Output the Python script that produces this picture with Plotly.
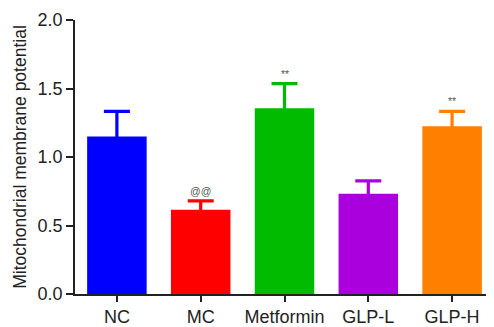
import plotly.graph_objects as go

categories = ["NC", "MC", "Metformin", "GLP-L", "GLP-H"]
means = [1.15, 0.615, 1.355, 0.732, 1.225]
errors = [0.183, 0.065, 0.18, 0.094, 0.108]
colors = ["#0000ff", "#ff0000", "#00bb00", "#aa00dd", "#ff7f00"]
sig_labels = ["", "@@", "**", "", "**"]

fig = go.Figure()
for c, m, e, col in zip(categories, means, errors, colors):
    fig.add_trace(go.Bar(
        x=[c], y=[m], marker=dict(color=col, line=dict(width=0)),
        width=0.71,
        # symmetric error bar: the lower half is hidden inside the same-coloured bar
        error_y=dict(type="data", array=[e], symmetric=True,
                     color=col, thickness=3.2, width=13),
        showlegend=False,
    ))

for c, m, e, s in zip(categories, means, errors, sig_labels):
    if s:
        fig.add_annotation(x=c, y=m + e, text=s, showarrow=False,
                           yanchor="bottom", yshift=2,
                           font=dict(family="Liberation Sans", size=10.5, color="#555"))

# page body has an 8px margin, so the figure is offset by 8px
fig.update_layout(
    width=486, height=319,
    margin=dict(l=67, r=0, t=12, b=31),
    plot_bgcolor="white", paper_bgcolor="white",
    barmode="overlay",
    font=dict(family="Liberation Sans", color="#222"),
)
fig.update_xaxes(
    range=[-0.5, 4.5], showline=True, linecolor="#222", linewidth=1.5,
    ticks="outside", ticklen=6, tickwidth=1.5, tickcolor="#222",
    tickfont=dict(size=18), showgrid=False, zeroline=False,
)
fig.update_yaxes(
    range=[0, 2], tickvals=[0, 0.5, 1.0, 1.5, 2.0],
    ticktext=["0.0", "0.5", "1.0", "1.5", "2.0"],
    showline=True, linecolor="#222", linewidth=1.5,
    ticks="outside", ticklen=7, tickwidth=1.5, tickcolor="#222",
    tickfont=dict(size=18), showgrid=False, zeroline=False,
    title=dict(text="Mitochondrial membrane potential", font=dict(size=17.5), standoff=6),
)

fig.write_html("out.html")
